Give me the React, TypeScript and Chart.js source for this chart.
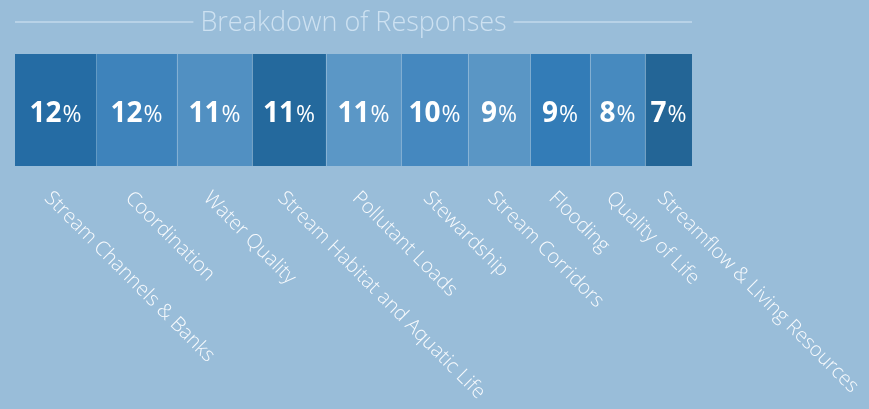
import React, { useEffect, useRef } from "react";
import { Chart, registerables } from "chart.js";

Chart.register(...registerables);

const categories = [
  "Stream Channels & Banks",
  "Coordination",
  "Water Quality",
  "Stream Habitat and Aquatic Life",
  "Pollutant Loads",
  "Stewardship",
  "Stream Corridors",
  "Flooding",
  "Quality of Life",
  "Streamflow & Living Resources",
];
const shares = [11.96, 11.96, 11.08, 10.93, 11.08, 9.9, 9.16, 8.86, 8.12, 6.95];
const shownPercent = ["12", "12", "11", "11", "11", "10", "9", "9", "8", "7"];
const segmentColors = [
  "#256ca4",
  "#3e83bb",
  "#5190c2",
  "#24699d",
  "#5b97c6",
  "#4588bf",
  "#5a96c5",
  "#337cb7",
  "#478abf",
  "#236596",
];
const titleText = "Breakdown of Responses";

const BG = "#99bdd9";

const overlayPlugin = {
  id: "overlay",
  afterDatasetsDraw(chart: any) {
    const ctx = chart.ctx;
    const area = chart.chartArea;
    ctx.save();
    chart.data.datasets.forEach((ds: any, i: number) => {
      const meta = chart.getDatasetMeta(i);
      const bar: any = meta.data[0];
      if (!bar) return;
      const { x, base, y } = bar.getProps(["x", "base", "y"], true);
      const cx = (x + base) / 2;
      const num = shownPercent[i];
      ctx.font = "700 28px 'Open Sans'";
      const nw = ctx.measureText(num).width;
      ctx.font = "400 23px 'Open Sans'";
      const pw = ctx.measureText("%").width;
      const total = nw + pw + 1;
      const sx = cx - total / 2;
      ctx.fillStyle = "#ffffff";
      ctx.textBaseline = "alphabetic";
      ctx.textAlign = "left";
      ctx.font = "700 28px 'Open Sans'";
      ctx.fillText(num, sx, y + 12);
      ctx.font = "400 23px 'Open Sans'";
      ctx.fillText("%", sx + nw + 1, y + 12);

      ctx.save();
      ctx.translate(cx - 12, area.bottom + 33);
      ctx.rotate(Math.PI / 4);
      ctx.font = "300 20px 'Open Sans'";
      ctx.fillStyle = "#f7fafd";
      ctx.fillText(categories[i], 0, 0);
      ctx.restore();
    });
    const left = area.left;
    const right = area.right;
    const mid = (left + right) / 2;
    ctx.font = "300 27px 'Open Sans'";
    ctx.textAlign = "center";
    ctx.textBaseline = "alphabetic";
    ctx.fillStyle = "#cde1f1";
    ctx.fillText(titleText, mid, 31);
    const tw = ctx.measureText(titleText).width;
    ctx.strokeStyle = "#b8d2e7";
    ctx.lineWidth = 2;
    ctx.beginPath();
    ctx.moveTo(left, 22);
    ctx.lineTo(mid - tw / 2 - 7, 22);
    ctx.moveTo(mid + tw / 2 + 7, 22);
    ctx.lineTo(right, 22);
    ctx.stroke();
    ctx.restore();
  },
};

export default function App() {
  const canvasRef = useRef<HTMLCanvasElement | null>(null);

  useEffect(() => {
    document.body.style.margin = "0";
    const canvas = canvasRef.current;
    if (!canvas) return;
    const chart = new Chart(canvas, {
      type: "bar",
      data: {
        labels: ["Responses"],
        datasets: categories.map((c, i) => ({
          label: c,
          data: [shares[i]],
          backgroundColor: segmentColors[i],
          borderColor: "rgba(255,255,255,0.12)",
          borderWidth: { left: i === 0 ? 0 : 1, right: 0, top: 0, bottom: 0 },
          borderSkipped: false,
          barPercentage: 1,
          categoryPercentage: 1,
        })),
      },
      options: {
        indexAxis: "y",
        animation: false,
        responsive: false,
        maintainAspectRatio: false,
        layout: { padding: { left: 15, right: 177, top: 54, bottom: 243 } },
        scales: {
          x: { stacked: true, min: 0, max: 100, display: false },
          y: { stacked: true, display: false },
        },
        plugins: {
          legend: { display: false },
          tooltip: { enabled: false },
          title: { display: false },
        },
      } as any,
      plugins: [overlayPlugin],
    });
    return () => chart.destroy();
  }, []);

  return (
    <div style={{ width: 869, height: 409, background: BG, position: "relative" }}>
      <canvas ref={canvasRef} width={869} height={409} style={{ display: "block", width: 869, height: 409 }} />
    </div>
  );
}
